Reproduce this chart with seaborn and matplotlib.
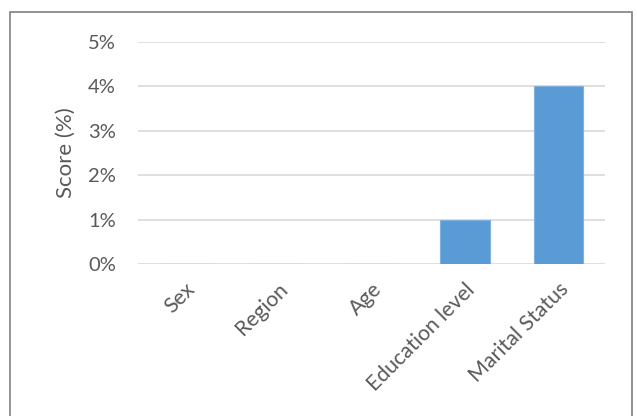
import matplotlib
matplotlib.use("Agg")
import matplotlib.pyplot as plt
import seaborn as sns
import pandas as pd
from matplotlib.patches import Rectangle

categories = ["Sex", "Region", "Age", "Education level", "Marital Status"]
scores = [0, 0, 0, 1, 4]
yticks = [0, 1, 2, 3, 4, 5]
ytick_labels = ["0%", "1%", "2%", "3%", "4%", "5%"]

sns.set_theme(style="white")
plt.rcParams['font.family'] = ['Lato', 'DejaVu Sans']

df = pd.DataFrame({"cat": categories, "score": scores})

fig = plt.figure(figsize=(6.37, 4.16), dpi=100)
ax = fig.add_axes([138/637, 1-264/416, (605-138)/637, (264-42)/416])

sns.barplot(data=df, x="cat", y="score", color="#5B9BD5", width=0.53,
            saturation=1, ax=ax, edgecolor="#7FB1E0", linewidth=0.8, zorder=3)

ax.set_ylim(0, 5)
ax.set_xlim(-0.5, 4.5)
ax.set_yticks(yticks)
ax.set_yticklabels(ytick_labels, fontsize=14.5, color="#595959")
for y in yticks:
    ax.axhline(y, color="#D9D9D9", linewidth=1.2, zorder=1)
for s in ax.spines.values():
    s.set_visible(False)
ax.tick_params(axis="y", length=0, pad=16)
ax.tick_params(axis="x", length=0, pad=11)
ax.set_xticks(range(len(categories)))
ax.set_xticklabels(categories, rotation=45, ha="right", rotation_mode="anchor",
                   fontsize=15.3, color="#595959")
ax.set_xlabel("")
ax.set_ylabel("Score (%)", fontsize=16, color="#595959", labelpad=9)

fig.patches.append(Rectangle((10/637, -0.1), (632-10)/637, 1.1-12/416,
                             transform=fig.transFigure, fill=False,
                             edgecolor="#7F7F7F", linewidth=1.2))

fig.savefig("out.png", dpi=100)
